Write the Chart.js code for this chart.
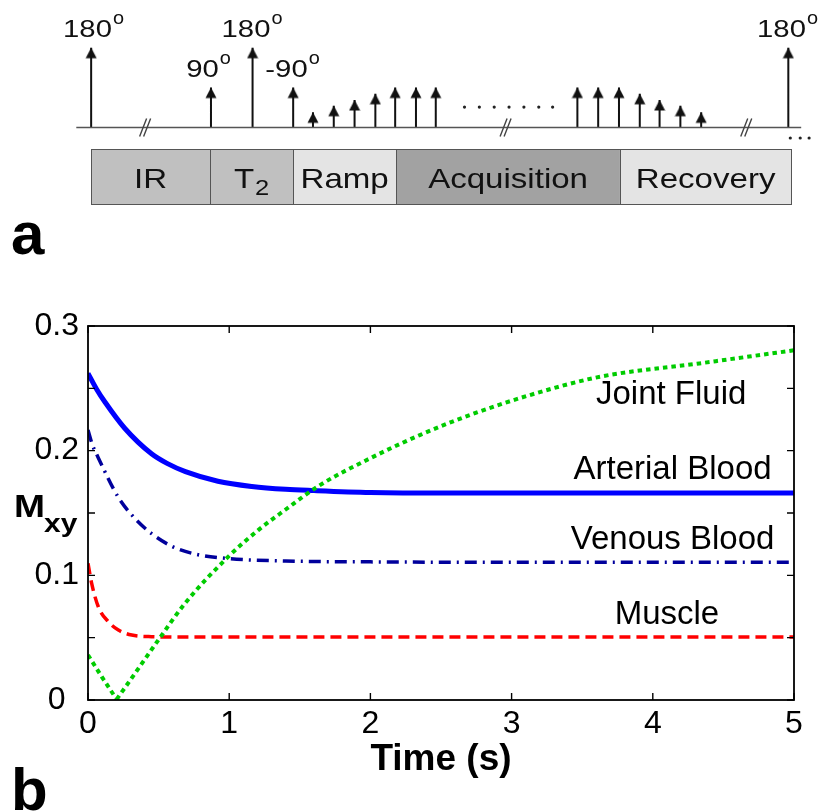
<!DOCTYPE html>
<html>
<head>
<meta charset="utf-8">
<script src="https://cdn.jsdelivr.net/npm/chart.js@4.4.1/dist/chart.umd.min.js"></script>
<style>
  html, body { margin: 0; padding: 0; background: #fff; }
  #wrap { position: relative; width: 825px; height: 811px; overflow: hidden; }
  #seq { position: absolute; left: 0; top: 0; }
  #sig { position: absolute; left: 0; top: 280px; }
</style>
</head>
<body>
<div id="wrap">
  <canvas id="seq" width="825" height="280"></canvas>
  <canvas id="sig" width="825" height="531"></canvas>
</div>
<script>
// ---- panel a : pulse sequence (schematic position, flip angle in degrees) ----
const pulseX     = [88, 209, 251, 292, 312, 333, 354, 375, 395, 416, 436, 579, 600, 621, 642, 662, 683, 704, 792];
const pulseAngle = [180, 90, 180, 90, 34, 49, 62, 76, 90, 90, 90, 90, 90, 90, 76, 62, 49, 34, 180];
const labelPulse = [0, 1, 2, 3, 18];
const labelText  = ['180', '90', '180', '-90', '180'];
const labelX     = [87.5, 202.5, 246, 286.5, 781.5];
const breakX     = [143, 507, 750];
const dotsMidX   = [465, 480, 495, 510, 525, 540, 554];
const dotsEndX   = [794, 804, 813];
const phaseNames = ['IR', 'T', 'Ramp', 'Acquisition', 'Recovery'];
const phaseSubs  = ['', '2', '', '', ''];
const phaseEdges = [88, 208, 292, 396, 622, 795];
const phaseColors = ['#c0c0c0', '#c0c0c0', '#e4e4e4', '#a2a2a2', '#e4e4e4'];

// ---- panel b : transverse magnetisation vs time ----
const jointT    = [0, 0.097, 0.203, 0.333, 0.498, 0.687, 0.994, 1.206, 1.395, 1.643, 1.997, 2.35, 2.705, 3.13, 3.626, 4.33, 5.0];
const jointV    = [0.0361, 0.0187, 0.0005, 0.0214, 0.0481, 0.0775, 0.115, 0.1363, 0.1524, 0.1724, 0.1938, 0.2125, 0.2286, 0.2446, 0.2593, 0.2700, 0.2805];
const arterialT = [0, 0.06, 0.12, 0.26, 0.45, 0.56, 0.69, 0.92, 1.16, 1.4, 1.6, 2.0, 2.5, 3.0, 4.0, 5.0];
const arterialV = [0.262, 0.2495, 0.239, 0.218, 0.1975, 0.1898, 0.1832, 0.1755, 0.1713, 0.1690, 0.1680, 0.1665, 0.166, 0.166, 0.166, 0.166];
const venousT   = [0, 0.03, 0.07, 0.215, 0.333, 0.45, 0.59, 0.76, 0.99, 1.4, 2.0, 3.0, 5.0];
const venousV   = [0.2165, 0.2050, 0.195, 0.1625, 0.1455, 0.1335, 0.1235, 0.117, 0.1135, 0.1115, 0.1108, 0.1105, 0.1105];
const muscleT   = [0, 0.026, 0.073, 0.144, 0.215, 0.31, 0.45, 0.7, 1.0, 2.0, 3.0, 4.0, 5.0];
const muscleV   = [0.1096, 0.0935, 0.0748, 0.0628, 0.0561, 0.0521, 0.0508, 0.0505, 0.0505, 0.0505, 0.0505, 0.0505, 0.0505];
const curveNames = ['Joint Fluid', 'Arterial Blood', 'Venous Blood', 'Muscle'];
const curveLabelT = [4.13, 4.14, 4.14, 4.10];
const curveLabelV = [0.2446, 0.1844, 0.1283, 0.0682];

const FF = '"Liberation Sans", Arial, Helvetica, sans-serif';
Chart.defaults.font.family = FF;
Chart.defaults.color = '#000';

function wideText(ctx, str, x, yb, font, sx) {
  ctx.save();
  ctx.font = font;
  ctx.translate(x, yb);
  ctx.scale(sx, 1);
  ctx.textAlign = 'left';
  ctx.textBaseline = 'alphabetic';
  ctx.fillText(str, 0, 0);
  ctx.restore();
}
function wideWidth(ctx, str, font, sx) {
  ctx.save();
  ctx.font = font;
  const w = ctx.measureText(str).width * sx;
  ctx.restore();
  return w;
}

// arrow head, tip at the centre of the image
const arrowHead = document.createElement('canvas');
arrowHead.width = 12; arrowHead.height = 24;
(function () {
  const c = arrowHead.getContext('2d');
  c.fillStyle = '#111';
  c.beginPath();
  c.moveTo(6, 12); c.lineTo(11.5, 22.5); c.lineTo(0.5, 22.5); c.closePath();
  c.fill();
})();

const stems = [];
pulseX.forEach((x, i) => {
  stems.push({ x, y: 0 }, { x, y: pulseAngle[i] }, { x, y: null });
});

const seqDecor = {
  id: 'seqDecor',
  afterDatasetsDraw(chart) {
    const { ctx, scales: { x, y } } = chart;
    const base = y.getPixelForValue(0);
    ctx.save();
    ctx.fillStyle = '#111';

    // break marks on the time line
    ctx.strokeStyle = '#444';
    ctx.lineWidth = 1.4;
    breakX.forEach(bx => {
      const px = x.getPixelForValue(bx);
      ctx.beginPath();
      for (let k = 0; k < 2; k++) {
        ctx.moveTo(px - 6 + 4 * k, base + 9);
        ctx.lineTo(px + 1 + 4 * k, base - 9);
      }
      ctx.stroke();
    });

    // flip angle labels
    labelPulse.forEach((pi, i) => {
      const tip = y.getPixelForValue(pulseAngle[pi]);
      const yb = tip - 11;
      const f = '24px ' + FF;
      const w = wideWidth(ctx, labelText[i], f, 1.22);
      const lx = labelX[i] - w / 2;
      wideText(ctx, labelText[i], lx, yb, f, 1.22);
      wideText(ctx, 'o', lx + w + 1, yb - 12.5, '19px ' + FF, 1.05);
    });

    // phase boxes
    const bTop = base + 22, bBot = base + 77;
    phaseNames.forEach((name, i) => {
      const l = x.getPixelForValue(phaseEdges[i]);
      const r = x.getPixelForValue(phaseEdges[i + 1]);
      ctx.fillStyle = phaseColors[i];
      ctx.fillRect(l, bTop, r - l, bBot - bTop);
      ctx.strokeStyle = '#555';
      ctx.lineWidth = 1;
      ctx.strokeRect(Math.round(l) + 0.5, Math.round(bTop) + 0.5, Math.round(r - l), Math.round(bBot - bTop));
      ctx.fillStyle = '#111';
      const fMain = '28.5px ' + FF, fSub = '22px ' + FF;
      const wm = wideWidth(ctx, name, fMain, 1.16);
      const ws = phaseSubs[i] ? wideWidth(ctx, phaseSubs[i], fSub, 1.16) + 1 : 0;
      const sx = (l + r) / 2 - (wm + ws) / 2;
      wideText(ctx, name, sx, bTop + 39, fMain, 1.16);
      if (phaseSubs[i]) wideText(ctx, phaseSubs[i], sx + wm + 1, bTop + 46, fSub, 1.16);
    });

    // panel letter
    ctx.fillStyle = '#000';
    ctx.font = 'bold 60px ' + FF;
    ctx.textBaseline = 'alphabetic';
    ctx.fillText('a', 11, 254);
    ctx.restore();
  }
};

new Chart(document.getElementById('seq'), {
  type: 'line',
  data: {
    datasets: [
      {
        data: [{ x: 73, y: 0 }, { x: 805, y: 0 }],
        borderColor: '#555', borderWidth: 1.5, pointRadius: 0
      },
      {
        data: stems,
        borderColor: '#111', borderWidth: 2, spanGaps: false,
        pointRadius: c => (c.dataIndex % 3 === 1 ? 6 : 0),
        pointStyle: arrowHead, pointBorderWidth: 0
      },
      {
        data: dotsMidX.map(x => ({ x, y: 46 })),
        showLine: false, pointRadius: 1.6, pointBackgroundColor: '#222', pointBorderWidth: 0
      },
      {
        data: dotsEndX.map(x => ({ x, y: -24 })),
        showLine: false, pointRadius: 1.6, pointBackgroundColor: '#222', pointBorderWidth: 0
      }
    ]
  },
  options: {
    responsive: false, animation: false, events: [],
    layout: { padding: 0 },
    plugins: { legend: { display: false }, tooltip: { enabled: false } },
    scales: {
      x: { type: 'linear', display: false, min: 0, max: 825 },
      y: { type: 'linear', display: false, min: -335.8, max: 278.8 }
    }
  },
  plugins: [seqDecor]
});

// ---- panel b ----
const pts = (ts, vs) => ts.map((t, i) => ({ x: t, y: vs[i] }));
const jMin = jointV.indexOf(Math.min(...jointV));

const sigDecor = {
  id: 'sigDecor',
  afterDraw(chart) {
    const { ctx, chartArea: a, scales: { x, y } } = chart;
    ctx.save();
    // box and inward ticks
    ctx.strokeStyle = '#000';
    ctx.lineWidth = 1.8;
    ctx.strokeRect(a.left, a.top, a.right - a.left, a.bottom - a.top);
    ctx.beginPath();
    y.ticks.forEach(t => {
      const py = y.getPixelForValue(t.value);
      ctx.moveTo(a.left, py); ctx.lineTo(a.left + 7, py);
      ctx.moveTo(a.right, py); ctx.lineTo(a.right - 7, py);
    });
    x.ticks.forEach(t => {
      const px = x.getPixelForValue(t.value);
      ctx.moveTo(px, a.bottom); ctx.lineTo(px, a.bottom - 7);
      ctx.moveTo(px, a.top); ctx.lineTo(px, a.top + 7);
    });
    ctx.lineWidth = 1.4;
    ctx.stroke();

    // curve names
    ctx.fillStyle = '#000';
    ctx.font = '33px ' + FF;
    ctx.textAlign = 'center';
    ctx.textBaseline = 'middle';
    curveNames.forEach((n, i) => {
      ctx.fillText(n, x.getPixelForValue(curveLabelT[i]), y.getPixelForValue(curveLabelV[i]));
    });

    // axis titles
    ctx.textBaseline = 'alphabetic';
    ctx.font = 'bold 37px ' + FF;
    ctx.fillText('Time (s)', (a.left + a.right) / 2, a.bottom + 70);
    wideText(ctx, 'M', 14, a.top + 191, 'bold 31px ' + FF, 1.2);
    wideText(ctx, 'xy', 44, a.top + 206, 'bold 26px ' + FF, 1.15);

    // panel letter
    ctx.textAlign = 'left';
    ctx.font = 'bold 60px ' + FF;
    ctx.fillText('b', 11, 530);
    ctx.restore();
  }
};

new Chart(document.getElementById('sig'), {
  type: 'line',
  data: {
    datasets: [
      {
        label: 'Joint Fluid', data: pts(jointT.slice(0, jMin + 1), jointV.slice(0, jMin + 1)),
        borderColor: '#00cc00', borderWidth: 4, borderDash: [4.5, 4]
      },
      {
        label: 'Joint Fluid', data: pts(jointT.slice(jMin), jointV.slice(jMin)),
        borderColor: '#00cc00', borderWidth: 4, borderDash: [4.5, 4], cubicInterpolationMode: 'monotone'
      },
      {
        label: 'Arterial Blood', data: pts(arterialT, arterialV),
        borderColor: '#0000ff', borderWidth: 5, cubicInterpolationMode: 'monotone'
      },
      {
        label: 'Venous Blood', data: pts(venousT, venousV),
        borderColor: '#00009c', borderWidth: 3.5, borderDash: [12, 6, 2, 6], cubicInterpolationMode: 'monotone'
      },
      {
        label: 'Muscle', data: pts(muscleT, muscleV),
        borderColor: '#ff0000', borderWidth: 3.5, borderDash: [11, 6], cubicInterpolationMode: 'monotone'
      }
    ]
  },
  options: {
    responsive: false, animation: false, events: [],
    elements: { point: { radius: 0 } },
    layout: { padding: { left: 0, right: 31, top: 46, bottom: 0 } },
    plugins: { legend: { display: false }, tooltip: { enabled: false } },
    scales: {
      x: {
        type: 'linear', min: 0, max: 5,
        grid: { display: false, drawTicks: false }, border: { display: false },
        ticks: { stepSize: 1, padding: 5, maxRotation: 0, font: { size: 32 }, callback: v => String(v) },
        afterFit(s) { s.height = 111; }
      },
      y: {
        type: 'linear', min: 0, max: 0.3,
        grid: { display: false, drawTicks: false }, border: { display: false },
        ticks: {
          stepSize: 0.05, padding: 9, crossAlign: 'center', font: { size: 32 },
          callback: v => {
            const k = Math.round(v * 100);
            if (k % 10) return '';
            return k === 0 ? '0' : (k / 100).toFixed(1);
          }
        },
        afterFit(s) { s.width = 88; }
      }
    }
  },
  plugins: [sigDecor]
});
</script>
</body>
</html>
